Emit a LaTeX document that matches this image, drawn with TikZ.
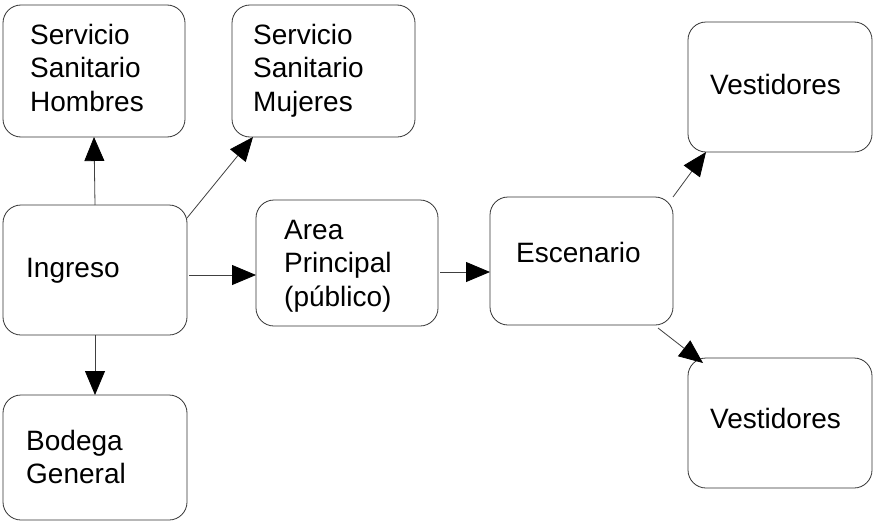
\documentclass[tikz,border=0pt]{standalone}
\usepackage{fontspec}
\setmainfont{Liberation Sans}
\usetikzlibrary{arrows.meta}
\begin{document}
\begin{tikzpicture}[x=1pt,y=-1pt,
  box/.style={draw=black!80, line width=0.8pt, rounded corners=18pt, inner sep=0pt, outer sep=0pt},
  txt/.style={anchor=north west, inner sep=0pt, align=left, font=\fontsize{28}{33.5}\selectfont},
  conn/.style={draw=black!75, line width=0.8pt, -{Triangle[length=24pt,width=20pt,color=black,fill=black]}}]
\useasboundingbox (0,0) rectangle (877,522);
% boxes
\node[box, minimum width=182pt, minimum height=132pt] (ssh) at (94,71) {};
\node[box, minimum width=183pt, minimum height=132pt] (ssm) at (323.5,71) {};
\node[box, minimum width=184pt, minimum height=130pt] (ing) at (95,270) {};
\node[box, minimum width=182pt, minimum height=126pt] (area) at (347,263) {};
\node[box, minimum width=183pt, minimum height=128pt] (esc) at (581.5,261) {};
\node[box, minimum width=184pt, minimum height=130pt] (v1) at (780,87) {};
\node[box, minimum width=184pt, minimum height=130pt] (v2) at (780,423) {};
\node[box, minimum width=184pt, minimum height=125pt] (bod) at (95,457.5) {};
% texts
\node[txt] (tssh) at ([shift={(27,19)}]ssh.north west) {Servicio\\Sanitario\\Hombres};
\node[txt] (tssm) at ([shift={(21,19)}]ssm.north west) {Servicio\\Sanitario\\Mujeres};
\node[txt] (ting) at ([shift={(23,53)}]ing.north west) {Ingreso};
\node[txt] (tarea) at ([shift={(28,20)}]area.north west) {Area\\Principal\\(público)};
\node[txt] (tesc) at ([shift={(26,45)}]esc.north west) {Escenario};
\node[txt] (tv1) at ([shift={(22,52)}]v1.north west) {Vestidores};
\node[txt] (tv2) at ([shift={(22,50)}]v2.north west) {Vestidores};
\node[txt] (tbod) at ([shift={(23,35)}]bod.north west) {Bodega\\General};
% connectors
\draw[conn] (ing.north) -- (ssh.south);
\draw[conn] ([shift={(0,13)}]ing.north east) -- ([shift={(21,0)}]ssm.south west);
\coordinate (a3) at ([shift={(2,5)}]ing.east);
\draw[conn] (a3) -- (a3 -| area.west);
\coordinate (a4) at ([shift={(2,9)}]area.east);
\draw[conn] (a4) -- (a4 -| esc.west);
\draw[conn] (esc.north east) -- ([shift={(18,0)}]v1.south west);
\draw[conn] ([shift={(-15,3)}]esc.south east) -- ([shift={(15,5)}]v2.north west);
\draw[conn] (ing.south) -- (bod.north);
\end{tikzpicture}
\end{document}
